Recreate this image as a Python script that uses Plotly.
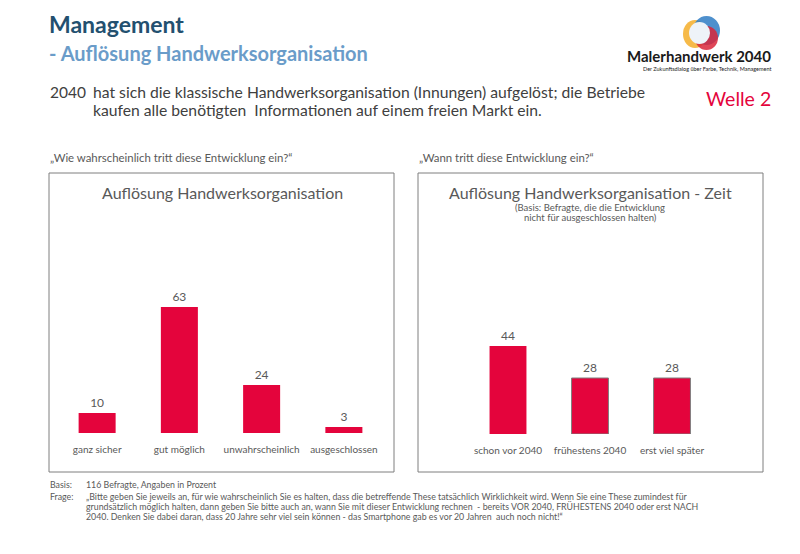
import plotly.graph_objects as go

# Daten
kat_links = ['ganz sicher', 'gut möglich', 'unwahrscheinlich', 'ausgeschlossen']
werte_links = [10, 63, 24, 3]
kat_rechts = ['schon vor 2040', 'frühestens 2040', 'erst viel später']
werte_rechts = [44, 28, 28]

ROT = '#E4043C'
GRAU = '#595959'
FONT = 'Lato'
W, H = 800, 554


def px(x):
    return x / W


def py(y):
    return 1 - y / H


fig = go.Figure()

fig.add_trace(go.Bar(
    x=kat_links, y=werte_links, xaxis='x', yaxis='y',
    marker=dict(color=ROT, line=dict(width=0)), width=0.45,
    text=werte_links, textposition='outside', cliponaxis=False,
    textfont=dict(family=FONT, size=12, color=GRAU), showlegend=False,
))
fig.add_trace(go.Bar(
    x=kat_rechts, y=werte_rechts, xaxis='x2', yaxis='y2',
    marker=dict(color=ROT, line=dict(width=1, color=['rgba(0,0,0,0)', '#7f7f7f', '#7f7f7f'])),
    width=0.45,
    text=werte_rechts, textposition='outside', cliponaxis=False,
    textfont=dict(family=FONT, size=12, color=GRAU), showlegend=False,
))

achse_x = dict(showgrid=False, zeroline=False, showline=False, ticks='',
               tickfont=dict(family=FONT, size=10, color=GRAU), ticklabelstandoff=9,
               fixedrange=True)
achse_y = dict(visible=False, range=[0, 120], fixedrange=True)

fig.update_layout(
    width=W, height=H,
    margin=dict(l=0, r=0, t=0, b=0),
    paper_bgcolor='white', plot_bgcolor='rgba(0,0,0,0)',
    font=dict(family=FONT, color=GRAU),
    bargap=0.55,
    xaxis=dict(domain=[px(56), px(385)], anchor='y', **achse_x),
    yaxis=dict(domain=[py(433), py(193)], anchor='x', **achse_y),
    xaxis2=dict(domain=[px(467), px(713)], anchor='y2', **achse_x),
    yaxis2=dict(domain=[py(434), py(194)], anchor='x2', **achse_y),
)

# Rahmen der beiden Diagramme
fig.add_shape(type='rect', xref='paper', yref='paper', x0=px(49), x1=px(394), y0=py(472), y1=py(173),
              line=dict(color='#7f7f7f', width=1))
fig.add_shape(type='rect', xref='paper', yref='paper', x0=px(418), x1=px(763), y0=py(472), y1=py(173),
              line=dict(color='#7f7f7f', width=1))

# Logo (vereinfachte Form)
fig.add_shape(type='circle', xref='paper', yref='paper', x0=px(683), x1=px(707), y0=py(48), y1=py(20),
              fillcolor='#F5B335', line=dict(width=0), opacity=0.9)
fig.add_shape(type='circle', xref='paper', yref='paper', x0=px(693), x1=px(720), y0=py(45), y1=py(16),
              fillcolor='#2F7CC4', line=dict(width=0), opacity=0.85)
fig.add_shape(type='circle', xref='paper', yref='paper', x0=px(695), x1=px(718), y0=py(50), y1=py(26),
              fillcolor='#D9263A', line=dict(width=0), opacity=0.85)
fig.add_shape(type='circle', xref='paper', yref='paper', x0=px(689), x1=px(710), y0=py(44), y1=py(22),
              fillcolor='#EEF3F8', line=dict(width=0))


def txt(x, y, s, size, color=GRAU, bold=False, xanchor='left', family=FONT):
    if bold:
        s = '<b>' + s + '</b>'
    fig.add_annotation(x=px(x), y=py(y), xref='paper', yref='paper', text=s, showarrow=False,
                       xanchor=xanchor, yanchor='middle', align=xanchor if xanchor != 'center' else 'center',
                       font=dict(family=family, size=size, color=color))


txt(47, 24, 'Management', 23, '#23506F', bold=True)
txt(47, 53, '- Auflösung Handwerksorganisation', 20, '#6A9CC9', bold=True)
txt(773, 56, 'Malerhandwerk 2040', 15, '#1a1a1a', bold=True, xanchor='right')
txt(773, 69, 'Der Zukunftsdialog über Farbe, Technik, Management', 5.5, '#1a1a1a', xanchor='right')

txt(48, 92, '2040', 15.5, '#404040')
txt(91, 92, 'hat sich die klassische Handwerksorganisation (Innungen) aufgelöst; die Betriebe', 15.7, '#404040')
txt(91, 110, 'kaufen alle benötigten  Informationen auf einem freien Markt ein.', 15.7, '#404040')
txt(738, 99, 'Welle 2', 19.5, ROT, xanchor='center')

txt(48, 157, '„Wie wahrscheinlich tritt diese Entwicklung ein?“', 11.4)
txt(417, 157, '„Wann tritt diese Entwicklung ein?“', 11.4)

txt(222, 192, 'Auflösung Handwerksorganisation', 16, xanchor='center')
txt(590, 192, 'Auflösung Handwerksorganisation - Zeit', 16, xanchor='center')
txt(590, 207, '(Basis: Befragte, die die Entwicklung', 9.5, xanchor='center')
txt(590, 217, 'nicht für ausgeschlossen halten)', 9.5, xanchor='center')

FUSS = 8.8
txt(48, 484, 'Basis:', FUSS)
txt(84, 484, '116 Befragte, Angaben in Prozent', FUSS)
txt(48, 496, 'Frage:', FUSS)
txt(84, 496, '„Bitte geben Sie jeweils an, für wie wahrscheinlich Sie es halten, dass die betreffende These tatsächlich '
             'Wirklichkeit wird. Wenn Sie eine These zumindest für', FUSS)
txt(84, 506, 'grundsätzlich möglich halten, dann geben Sie bitte auch an, wann Sie mit dieser Entwicklung rechnen  '
             '- bereits VOR 2040, FRÜHESTENS 2040 oder erst NACH', FUSS)
txt(84, 516, '2040. Denken Sie dabei daran, dass 20 Jahre sehr viel sein können - das Smartphone gab es vor 20 Jahren  '
             'auch noch nicht!“', FUSS)

fig.write_html('out.html', config={'displayModeBar': False},
               post_script="document.body.style.margin='0px';")
